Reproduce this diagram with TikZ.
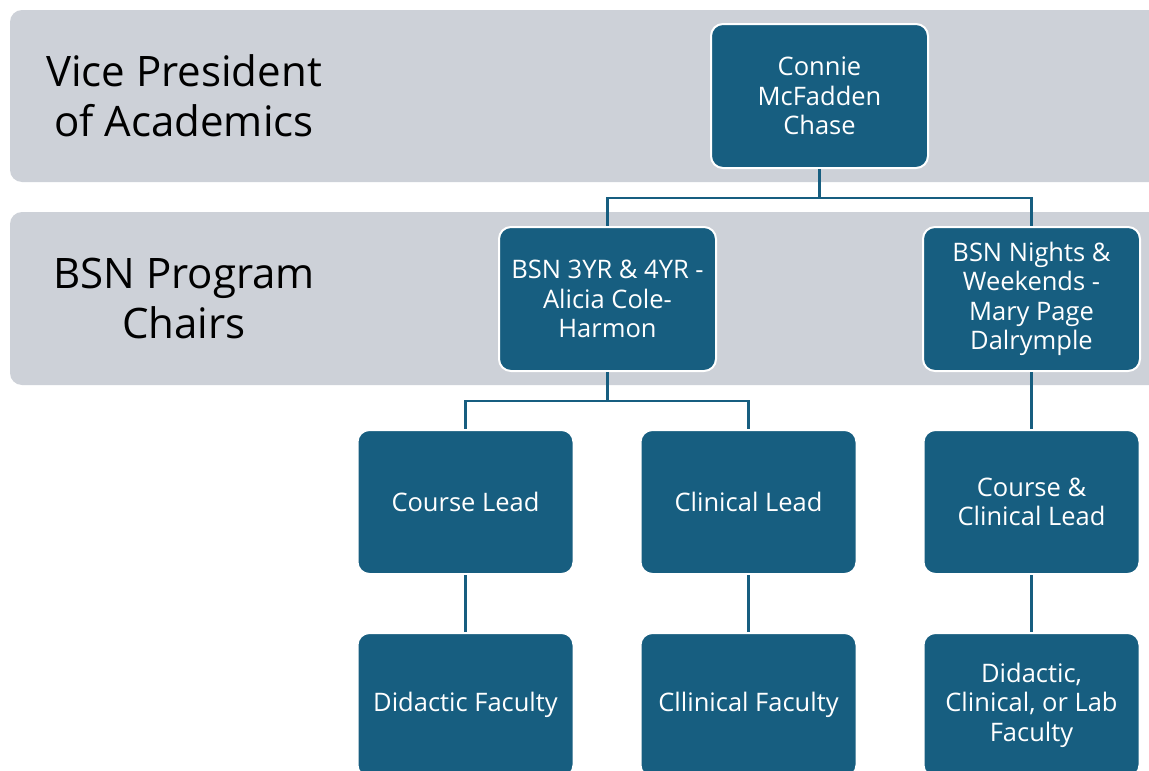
\documentclass[tikz,border=0pt]{standalone}
\usepackage{fontspec}
\setmainfont{Open Sans}
\definecolor{boxblue}{RGB}{23,94,128}
\definecolor{bandgray}{RGB}{205,209,216}

\begin{document}
\begin{tikzpicture}[x=1pt, y=-1pt,
  band/.style={fill=bandgray, rounded corners=12pt},
  person/.style={draw=white, line width=2pt, fill=boxblue, rounded corners=12pt,
    minimum width=217pt, minimum height=144pt, align=center, text=white,
    font=\fontsize{25.5}{29.5}\selectfont},
  level/.style={align=center, font=\fontsize{42}{50}\selectfont},
  link/.style={draw=boxblue, line width=2.5pt}]

\clip (0,0) rectangle (1149,771);
\fill[white] (0,0) rectangle (1149,771);

% the two level bands
\fill[band] (10,10) rectangle (1190,182);
\fill[band] (10,212) rectangle (1190,385);
\node[level] (lvlvp) at (184,96) {Vice President\\of Academics};
\node[level] (lvlchairs) at (184,298) {BSN Program\\Chairs};

% people
\node[person] (vp) at (819.5,96) {Connie\\McFadden\\Chase};
\node[person] (bsnA) at (607.5,299) {BSN 3YR \& 4YR -\\Alicia Cole-\\Harmon};
\node[person] (bsnB) at (1031.5,299) {BSN Nights \&\\Weekends -\\Mary Page\\Dalrymple};

\node[person, minimum width=216pt] (course) at (465.5,502) {Course Lead};
\node[person, minimum width=216pt] (clinical) at (748.5,502) {Clinical Lead};
\node[person, minimum width=216pt] (combo) at (1031.5,502) {Course \&\\Clinical Lead};

\node[person, minimum width=216pt] (didactic) at (465.5,705) {Didactic Faculty};
\node[person, minimum width=216pt] (clinfac) at (748.5,705) {Cllinical Faculty};
\node[person, minimum width=216pt] (allfac) at (1031.5,705) {Didactic,\\Clinical, or Lab\\Faculty};

% connectors
\draw[link] (vp.south) -- ++(0,29) -| (bsnA.north);
\draw[link] (vp.south) -- ++(0,29) -| (bsnB.north);
\draw[link] (bsnA.south) -- ++(0,29) -| (course.north);
\draw[link] (bsnA.south) -- ++(0,29) -| (clinical.north);
\draw[link] (bsnB.south) -- (combo.north);
\draw[link] (course.south) -- (didactic.north);
\draw[link] (clinical.south) -- (clinfac.north);
\draw[link] (combo.south) -- (allfac.north);

\end{tikzpicture}
\end{document}
